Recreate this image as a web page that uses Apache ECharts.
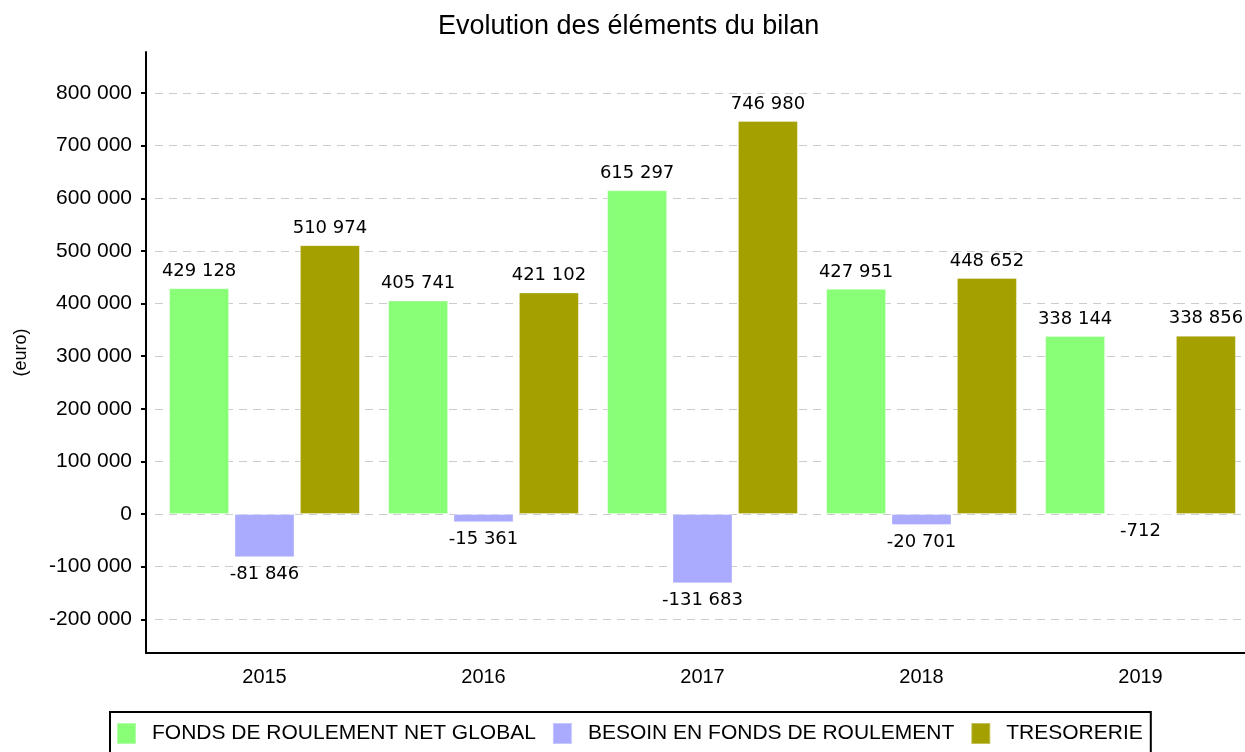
<!DOCTYPE html>
<html>
<head>
<meta charset="utf-8">
<script src="https://cdn.jsdelivr.net/npm/echarts@6/dist/echarts.min.js"></script>
<style>
  html, body { margin: 0; padding: 0; background: #fff; }
  #chart { width: 1245px; height: 752px; }
</style>
</head>
<body>
<div id="chart"></div>
<script>
// annees
var years = ['2015', '2016', '2017', '2018', '2019']
// series (euro)
var fondsRoulement = [429128, 405741, 615297, 427951, 338144]
var besoinFonds = [-81846, -15361, -131683, -20701, -712]
var tresorerie = [510974, 421102, 746980, 448652, 338856]
// graduations de l'axe Y
var yTicks = [-200000, -100000, 0, 100000, 200000, 300000, 400000, 500000, 600000, 700000, 800000]

var names = ['FONDS DE ROULEMENT NET GLOBAL', 'BESOIN EN FONDS DE ROULEMENT', 'TRESORERIE']
var colors = ['#88ff77', '#aaaaff', '#a3a000']

function fmt (v) {
  return String(v).replace(/\B(?=(\d{3})+(?!\d))/g, ' ')
}

// label au dessus pour les positifs, en dessous pour les negatifs
function toItems (arr) {
  return arr.map(function (v) {
    return { value: v, label: { position: v < 0 ? 'bottom' : 'top' } }
  })
}

function makeSeries (name, arr, color) {
  return {
    name: name,
    type: 'bar',
    barWidth: 60,
    barGap: '9%',
    data: toItems(arr),
    itemStyle: { color: color, borderColor: 'rgba(255,255,255,0.35)', borderWidth: 1 },
    label: {
      show: true,
      distance: 8,
      color: '#000',
      fontFamily: 'DejaVu Sans',
      fontSize: 18,
      formatter: function (p) { return fmt(p.value) }
    }
  }
}

var chart = echarts.init(document.getElementById('chart'))
chart.setOption({
  animation: false,
  backgroundColor: '#fff',
  title: {
    text: 'Evolution des éléments du bilan',
    left: 433,
    top: 8,
    textStyle: { fontFamily: 'Liberation Sans', fontSize: 27, fontWeight: 'normal', color: '#000' }
  },
  legend: {
    left: 110,
    top: 712,
    data: names,
    icon: 'rect',
    itemWidth: 19,
    itemHeight: 21,
    itemGap: 16,
    borderColor: '#000',
    borderWidth: 2,
    padding: [10, 8, 10, 6],
    textStyle: { fontFamily: 'Liberation Sans', fontSize: 21, color: '#000', padding: [4, 0, 0, 11] }
  },
  grid: [
    { left: 155, top: 52, width: 1095, height: 601, outerBoundsMode: 'none' },
    { left: 146, top: 52, width: 1104, height: 601, outerBoundsMode: 'none' }
  ],
  xAxis: [
    {
      type: 'category',
      data: years,
      axisLine: { onZero: false, lineStyle: { color: '#000', width: 2 } },
      axisTick: { show: false },
      axisLabel: { color: '#000', fontFamily: 'Liberation Sans', fontSize: 20, margin: 14 }
    },
    {
      type: 'value',
      gridIndex: 1,
      min: 0,
      max: 1,
      axisLine: { show: true, onZero: false, lineStyle: { color: '#000', width: 2 } },
      axisTick: { show: false },
      axisLabel: { show: false },
      splitLine: { show: false }
    }
  ],
  yAxis: [
    {
      type: 'value',
      min: -264000,
      max: 878000,
      offset: 9,
      name: '(euro)',
      nameLocation: 'middle',
      nameGap: 116,
      nameTextStyle: { fontFamily: 'Liberation Sans', fontSize: 18, color: '#000' },
      axisLine: { show: true, lineStyle: { color: '#000', width: 2 } },
      axisTick: { show: true, length: 5, customValues: yTicks, lineStyle: { color: '#000', width: 2 } },
      axisLabel: {
        customValues: yTicks,
        color: '#000',
        fontFamily: 'Liberation Sans',
        fontSize: 21,
        margin: 14,
        formatter: function (v) { return fmt(v) }
      },
      splitLine: { show: true, lineStyle: { color: '#cccccc', type: [8, 6], width: 1 } }
    },
    { type: 'value', gridIndex: 1, show: false, min: 0, max: 1 }
  ],
  series: [
    makeSeries(names[0], fondsRoulement, colors[0]),
    makeSeries(names[1], besoinFonds, colors[1]),
    makeSeries(names[2], tresorerie, colors[2])
  ]
})
</script>
</body>
</html>
